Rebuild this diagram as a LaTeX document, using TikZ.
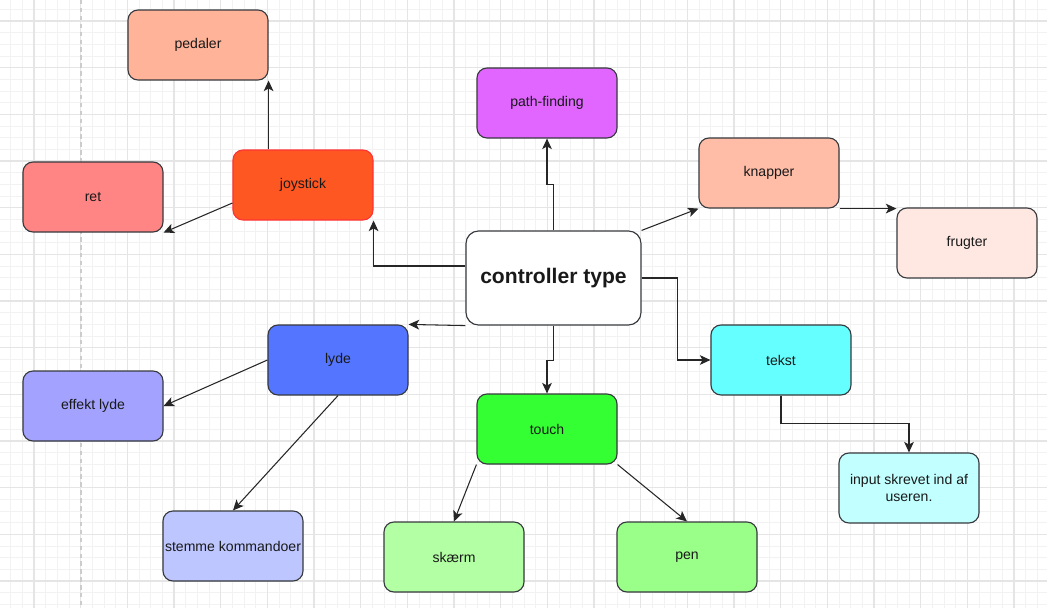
\documentclass[tikz,border=0pt]{standalone}
\usepackage{fontspec}
\setmainfont{Liberation Sans}
\usepackage{xcolor}
\usetikzlibrary{arrows.meta,positioning}

\definecolor{gridminor}{HTML}{F2F2F2}
\definecolor{gridmajor}{HTML}{E5E5E5}
\definecolor{boxline}{HTML}{36393D}
\definecolor{cpedal}{HTML}{FFB399}
\definecolor{cjoy}{HTML}{FF5722}
\definecolor{cjoyline}{HTML}{FF3333}
\definecolor{cret}{HTML}{FF8585}
\definecolor{cpath}{HTML}{E066FF}
\definecolor{cknap}{HTML}{FFBDA8}
\definecolor{cfrugt}{HTML}{FFE8E2}
\definecolor{clyde}{HTML}{5475FF}
\definecolor{ceffekt}{HTML}{A3A3FF}
\definecolor{cstemme}{HTML}{BDC6FF}
\definecolor{ctouch}{HTML}{33FF33}
\definecolor{cskaerm}{HTML}{B3FFA3}
\definecolor{cpen}{HTML}{99FF88}
\definecolor{ctekst}{HTML}{66FFFF}
\definecolor{cinput}{HTML}{C2FFFF}

\begin{document}
\begin{tikzpicture}[x=0.2mm, y=-0.2mm,
    every node/.style={font=\fontsize{8}{9.2}\selectfont, text=black!90},
    box/.style={draw=boxline, line width=0.65pt, rounded corners=0.2cm,
        minimum width=2.8cm, minimum height=1.4cm, inner sep=1pt, align=center},
    conn/.style={-{Stealth[length=6pt,width=5.5pt,inset=1.5pt]}, line width=0.6pt, black!85},
    minorgrid/.style={draw=gridminor, line width=0.5pt},
    majorgrid/.style={draw=gridmajor, line width=0.6pt}]

    % background grid
    \useasboundingbox (0,0) rectangle (1047,608);
    \fill[white] (0,0) rectangle (1047,608);
    \begin{scope}
        \clip (0,0) rectangle (1047,608);
        \foreach \i in {0,...,90} \draw[minorgrid] ({-1+11.667*\i},0) -- ++(0,608);
        \foreach \i in {0,...,52} \draw[minorgrid] (0,{-2.33+11.667*\i}) -- ++(1047,0);
        \foreach \i in {0,...,23} \draw[majorgrid] ({-12.67+46.667*\i},0) -- ++(0,608);
        \foreach \i in {0,...,12} \draw[majorgrid] (0,{21+46.667*\i}) -- ++(1047,0);
        \draw[gray!40, line width=0.6pt, dash pattern=on 2.5pt off 2pt] (81,0) -- (81,608);
    \end{scope}

    % centre
    \node[box, fill=white, minimum width=3.5cm, minimum height=1.88cm, rounded corners=0.25cm,
        font=\bfseries\fontsize{12}{14}\selectfont] (ctrl) at (553.5,278) {controller type};

    % joystick branch
    \node[box, fill=cjoy, draw=cjoyline] (joy) at (303,185) {joystick};
    \node[box, fill=cpedal] (pedal) at (198,45) {pedaler};
    \node[box, fill=cret] (ret) at (93,197) {ret};

    % path-finding
    \node[box, fill=cpath] (path) at (547,103) {path-finding};

    % knapper branch
    \node[box, fill=cknap] (knap) at (769,173) {knapper};
    \node[box, fill=cfrugt] (frugt) at (967,243) {frugter};

    % lyde branch
    \node[box, fill=clyde] (lyde) at (338,360) {lyde};
    \node[box, fill=ceffekt] (effekt) at (93,406) {effekt lyde};
    \node[box, fill=cstemme] (stemme) at (233,546) {stemme kommandoer};

    % touch branch
    \node[box, fill=ctouch] (touch) at (547,429) {touch};
    \node[box, fill=cskaerm] (skaerm) at (454,557) {skærm};
    \node[box, fill=cpen] (pen) at (687,557) {pen};

    % tekst branch
    \node[box, fill=ctekst] (tekst) at (781,360) {tekst};
    \node[box, fill=cinput] (input) at (909,488) {input skrevet ind af\\useren.};

    % Arrows
    \draw[conn] ([yshift=0.24cm]ctrl.west) -| (joy.south east);
    \draw[conn] (joy.north -| pedal.south east) -- (pedal.south east);
    \draw[conn] ([yshift=-0.36cm]joy.west) -- (ret.south east);
    \draw[conn] (ctrl.north) -- ++(0,-46) -| (path.south);
    \draw[conn] (ctrl.north east) -- (knap.south west);
    \draw[conn] (knap.south east) -- (knap.south east -| frugt.west);
    \draw[conn] (ctrl.east) -- ++(36,0) |- (tekst.west);
    \draw[conn] (tekst.south) -- ++(0,28) -| (input.north);
    \draw[conn] (ctrl.south) -- ++(0,35) -| (touch.north);
    \draw[conn] (ctrl.south west) -- (lyde.north east);
    \draw[conn] (lyde.west) -- (effekt.east);
    \draw[conn] (lyde.south) -- (stemme.north);
    \draw[conn] (touch.south west) -- (skaerm.north);
    \draw[conn] (touch.south east) -- (pen.north);
\end{tikzpicture}
\end{document}
